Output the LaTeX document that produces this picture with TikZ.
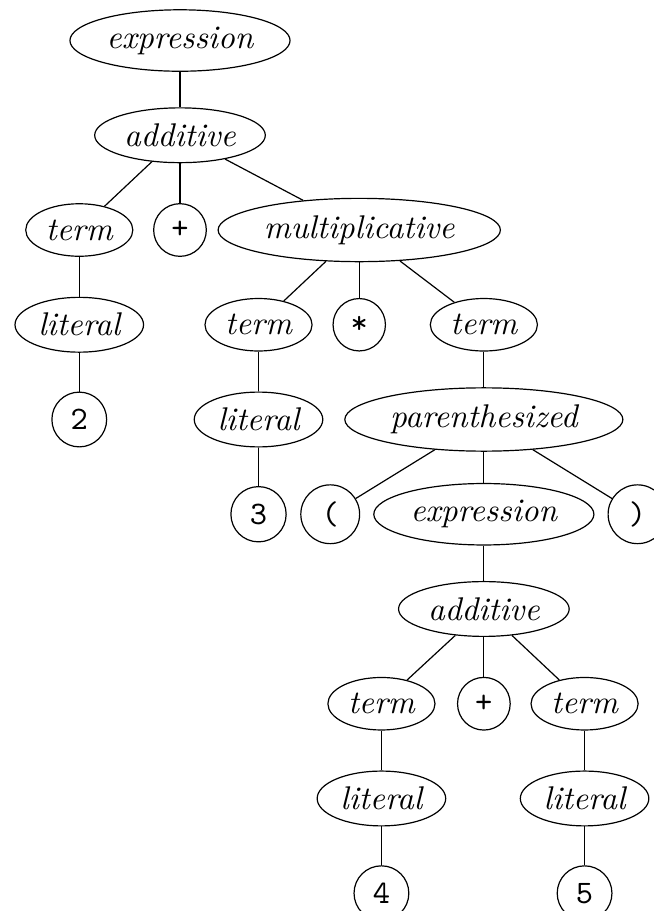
\documentclass[tikz,border=0pt]{standalone}
\usetikzlibrary{shapes.geometric,positioning}

\begin{document}
\begin{tikzpicture}[
  on grid,
  node distance=11.1mm and 11.8mm,
  rulebox/.style={ellipse, draw, inner xsep=1.5pt, inner ysep=2.6pt, minimum height=17.5pt, font=\fontsize{10.95pt}{13pt}\selectfont\itshape},
  tokenbox/.style={circle, draw, font=\fontsize{10.95pt}{13pt}\selectfont\ttfamily}
]
  \path[use as bounding box, clip] (-60pt,13.5pt) rectangle (158pt,-290.17pt);

  % Top of the tree: 2 + 3 * ( ... )
  \node[rulebox] (expr) at (0,0) {expression};
  \node[rulebox, below=of expr] (add) {additive};
  \node[rulebox, below left=11.1mm and 11.8mm of add] (termA) {term};
  \node[tokenbox, below=of add] (plusA) {+};
  \node[rulebox, below right=11.1mm and 21mm of add] (mult) {multiplicative};
  \node[rulebox, below=of termA] (litA) {literal};
  \node[tokenbox, below=of litA] (two) {2};

  % Product branch
  \node[rulebox, below left=11.1mm and 11.8mm of mult] (termB) {term};
  \node[tokenbox, below=of mult] (star) {*};
  \node[rulebox, below right=11.1mm and 14.6mm of mult] (termC) {term};
  \node[rulebox, below=of termB] (litB) {literal};
  \node[tokenbox, below=of litB] (three) {3};
  \node[rulebox, below=of termC] (paren) {parenthesized};
  \node[tokenbox, below left=11.1mm and 18mm of paren] (lpar) {(};
  \node[rulebox, below=of paren] (exprB) {expression};
  \node[tokenbox, below right=11.1mm and 18mm of paren] (rpar) {)};

  % Inner sum: 4 + 5
  \node[rulebox, below=of exprB] (addB) {additive};
  \node[rulebox, below left=11.1mm and 12mm of addB] (termD) {term};
  \node[tokenbox, below=of addB] (plusB) {+};
  \node[rulebox, below right=11.1mm and 11.8mm of addB] (termE) {term};
  \node[rulebox, below=of termD] (litD) {literal};
  \node[tokenbox, below=of litD] (four) {4};
  \node[rulebox, below=of termE] (litE) {literal};
  \node[tokenbox, below=of litE] (five) {5};

  \draw (expr) -- (add);
  \draw (add) -- (termA);
  \draw (add) -- (plusA);
  \draw (add) -- (mult);
  \draw (termA) -- (litA);
  \draw (litA) -- (two);
  \draw (mult) -- (termB);
  \draw (mult) -- (star);
  \draw (mult) -- (termC);
  \draw (termB) -- (litB);
  \draw (litB) -- (three);
  \draw (termC) -- (paren);
  \draw (paren) -- (lpar);
  \draw (paren) -- (exprB);
  \draw (paren) -- (rpar);
  \draw (exprB) -- (addB);
  \draw (addB) -- (termD);
  \draw (addB) -- (plusB);
  \draw (addB) -- (termE);
  \draw (termD) -- (litD);
  \draw (litD) -- (four);
  \draw (termE) -- (litE);
  \draw (litE) -- (five);
\end{tikzpicture}
\end{document}
